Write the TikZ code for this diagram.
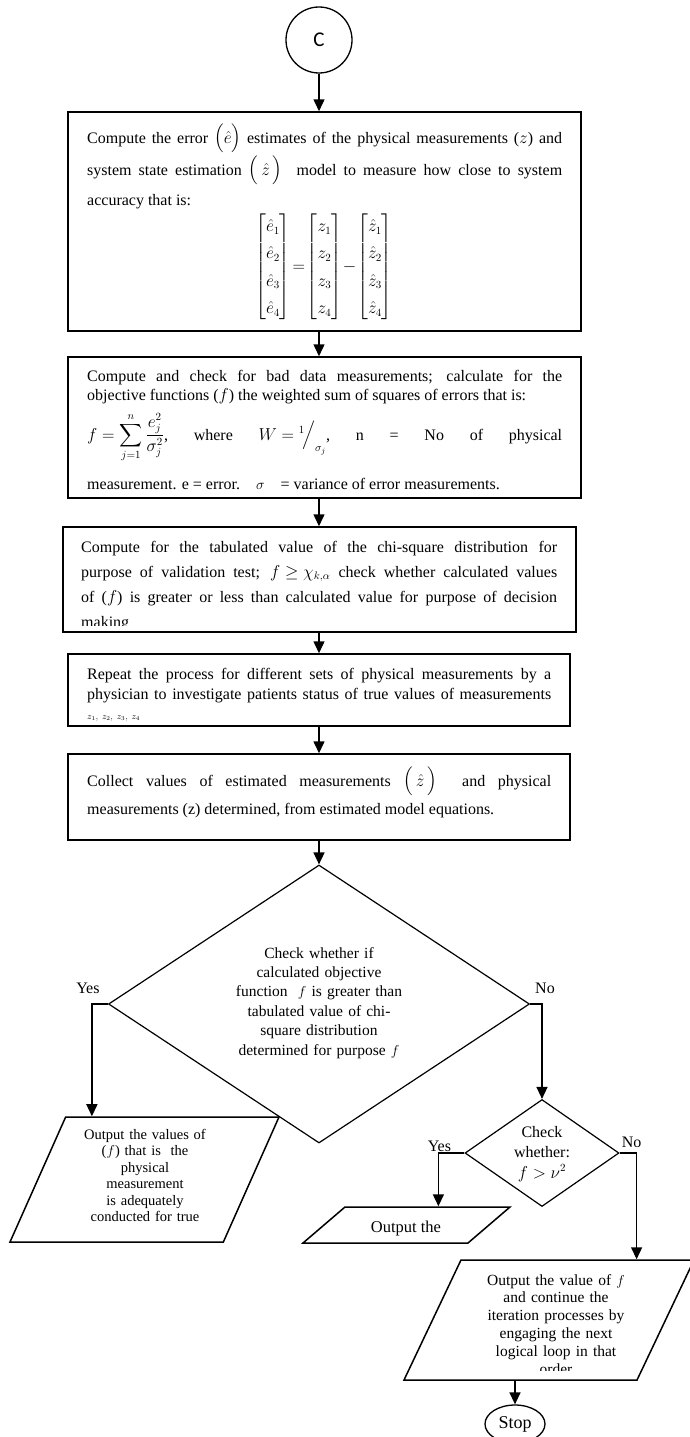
\documentclass[tikz,border=0pt]{standalone}
\usepackage{amsmath,amssymb}
\usepackage{fontspec}
\setmainfont{Liberation Serif}
\newfontfamily\calib{Carlito}
\usetikzlibrary{arrows.meta,positioning,calc,shapes.geometric}

\begin{document}
\begin{tikzpicture}[x=1pt,y=-1pt,>={Triangle[length=12pt,width=11pt]},
  bx/.style={rectangle,draw,line width=1.5pt,inner sep=0pt},
  dm/.style={diamond,draw,line width=1.2pt,inner sep=0pt},
  io/.style={trapezium,trapezium stretches body=true,draw,line width=1.5pt,inner xsep=0pt},
  tx/.style={inner sep=0pt,align=justify,anchor=base west,font=\fontsize{16}{19.5}\selectfont},
  ctx/.style={inner sep=0pt,align=center,anchor=base},
  lb/.style={inner sep=0pt,font=\fontsize{16}{19}\selectfont},
  ln/.style={line width=1.5pt}]
\useasboundingbox (0,0) rectangle (689,1437);
% start connector and process boxes
\node[draw,circle,line width=1.3pt,minimum size=66pt,inner sep=0pt,font={\calib\fontsize{21}{24}\selectfont}] (C) at (319,40) {C};
\node[bx,minimum width=513pt,minimum height=219pt] (B1) at (324.5,221.5) {};
\node[bx,minimum width=513pt,minimum height=141pt] (B2) at (324.5,427.5) {};
\node[bx,minimum width=513pt,minimum height=105pt] (B3) at (319.5,579.5) {};
\node[bx,minimum width=502pt,minimum height=72pt] (B4) at (319,690) {};
\node[bx,minimum width=502pt,minimum height=86pt] (B5) at (319,797) {};
% decisions
\node[dm,minimum width=421pt,minimum height=278pt] (D1) at (319,1004) {};
\node[dm,minimum width=154pt,minimum height=107pt] (D2) at (542,1153) {};
% outputs
\node[io,inner ysep=62.5pt,trapezium left angle=66,trapezium right angle=114,minimum width=269pt] (P1) at (144.5,1179.5) {};
\node[io,inner ysep=18pt,trapezium left angle=40.6,trapezium right angle=139.4,minimum width=207pt] (P2) at (406.5,1225) {};
\node[io,inner ysep=60pt,trapezium left angle=64.6,trapezium right angle=115.4,minimum width=290pt] (P3) at (549,1320) {};
\node[draw,ellipse,line width=1.3pt,minimum width=60pt,minimum height=38pt,inner sep=0pt,font=\fontsize{18}{20}\selectfont] (Stop) at (515,1424) {Stop};

% texts
\node[tx,text width=475pt,font=\fontsize{16}{30}\selectfont] (T1) at (87,143) {Compute the error $\Big(\hat{e}\Big)$ estimates of the physical measurements ($z$) and\linebreak system state estimation $\Big(\,\hat{z}\,\Big)$ \ model to measure how close to system\linebreak accuracy that is:};
\node[inner sep=0pt,font=\fontsize{16}{19.5}\selectfont] (M1) at (324,267) {\renewcommand{\arraystretch}{1.4}\setlength{\arraycolsep}{3pt}$\begin{bmatrix}\hat{e}_1\\ \hat{e}_2\\ \hat{e}_3\\ \hat{e}_4\end{bmatrix}\!=\!\begin{bmatrix}z_1\\ z_2\\ z_3\\ z_4\end{bmatrix}\!-\!\begin{bmatrix}\hat{z}_1\\ \hat{z}_2\\ \hat{z}_3\\ \hat{z}_4\end{bmatrix}$};
\node[tx,text width=475pt] (T2a) at (87,381) {Compute and check for bad data measurements; calculate for the\linebreak objective functions ($f$) the weighted sum of squares of errors that is:};
\node[tx] (T2b) at (87,440) {\hbox to 475pt{$f=\displaystyle\sum_{j=1}^{n}\frac{e_j^2}{\sigma_j^2}$,\hfil where\hfil $W={}^{1}\!\Big/_{\sigma_j}$,\hfil n\hfil =\hfil No\hfil of\hfil physical}};
\node[tx] (T2c) at (87,489) {measurement. e = error.\quad{\Large$\sigma$}\quad = variance of error measurements.};
\begin{scope}
  \clip (B3.north west) rectangle ([yshift=7pt]B3.south east);
  \node[tx,text width=476pt,font=\fontsize{16}{25}\selectfont] (T3) at (81,552) {Compute for the tabulated value of the chi-square distribution for\linebreak purpose of validation test; ${f\geq\chi_{k,\alpha}}$ check whether calculated values\linebreak of ($f$) is greater or less than calculated value for purpose of decision\linebreak making};
\end{scope}
\begin{scope}
  \clip (B4.north west) rectangle ([yshift=6pt]B4.south east);
  \node[tx,text width=464pt,font=\fontsize{16}{20}\selectfont] (T4) at (87,679) {Repeat the process for different sets of physical measurements by a\linebreak physician to investigate patients status of true values of measurements\linebreak {\fontsize{9}{10}\selectfont$z_1,\ z_2,\ z_3,\ z_4$}};
\end{scope}
\node[tx,text width=464pt,font=\fontsize{16}{28}\selectfont] (T5) at (87,786) {Collect values of estimated measurements $\Big(\,\hat{z}\,\Big)$ \ and physical\linebreak measurements (z) determined, from estimated model equations.};
\node[ctx,text width=240pt,font=\fontsize{15.5}{19.4}\selectfont] (TD1) at (319,958) {Check whether if\\calculated objective\\function \ $f$ is greater than\\tabulated value of chi-\\square distribution\\determined for purpose $f$};
\node[ctx,text width=120pt,font=\fontsize{16}{20.5}\selectfont] (TD2) at (542,1137) {Check\\whether:\\${f>\nu^2}$};
\node[ctx,text width=150pt,font=\fontsize{14.5}{16.5}\selectfont] (TP1) at (145,1139) {Output the values of\\($f$) that is \ the\\physical\\measurement\\is adequately\\conducted for true};
\node[ctx,font=\fontsize{16.5}{19}\selectfont] (TP2) at (406,1232) {Output the};
\begin{scope}
  \clip (380,1262) rectangle (700,1370);
  \node[ctx,text width=180pt,font=\fontsize{15.5}{17.8}\selectfont] (TP3) at (556,1285) {Output the value of $f$\\and continue the\\iteration processes by\\engaging the next\\logical loop in that\\order};
\end{scope}

% connectors
\draw[ln,->] (C) -- (C |- B1.north);
\draw[ln,->] (B1.south -| C.south) -- (B2.north -| C.south);
\draw[ln,->] (B2.south -| C.south) -- (B3.north -| C.south);
\draw[ln,->] (B3.south -| C.south) -- (B4.north -| C.south);
\draw[ln,->] (B4.south -| C.south) -- (B5.north -| C.south);
\draw[ln,->] (B5.south -| D1.north) -- (D1.north);
\coordinate (yL) at ([xshift=-16pt]D1.west);
\coordinate (nR) at (D2.north |- D1.east);
\coordinate (y2L) at ([xshift=-26pt]D2.west);
\coordinate (n2R) at ([xshift=17pt]D2.east);
\draw[ln,->] (D1.west) -- (yL) -- (yL |- P1.north);
\draw[ln,->] (D1.east) -- (nR) -- (D2.north);
\draw[ln,->] (D2.west) -- (y2L) -- (y2L |- P2.north);
\draw[ln,->] (D2.east) -- (n2R) -- (n2R |- P3.north);
\draw[ln,->] (P3.south -| Stop.north) -- (Stop.north);
\node[lb,above=10pt of yL,xshift=-4pt] (yes1) {Yes};
\node[lb,above=10pt of nR,xshift=3pt] (no1) {No};
\node[lb,above=1pt of y2L,xshift=1pt] (yes2) {Yes};
\node[lb,above=5pt of n2R,xshift=-5pt] (no2) {No};
\end{tikzpicture}
\end{document}
